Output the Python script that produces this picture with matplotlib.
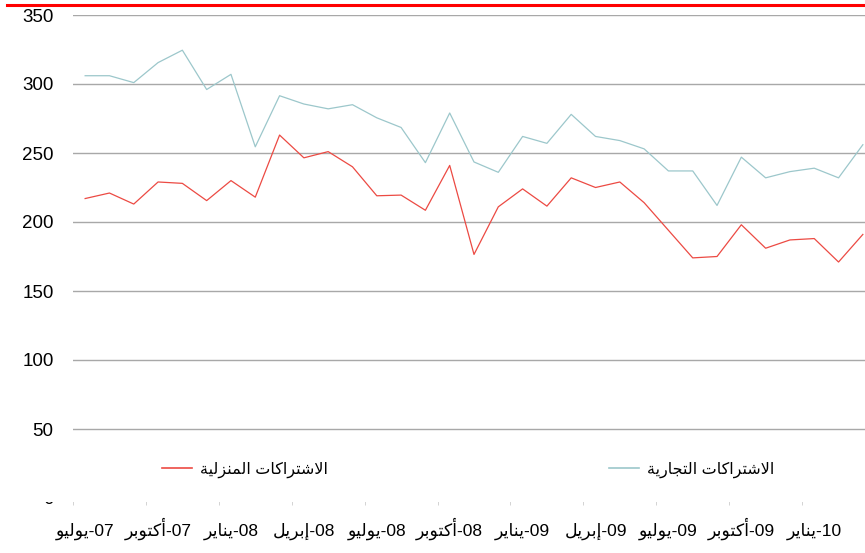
import numpy as np
import matplotlib
matplotlib.use("Agg")
import matplotlib.pyplot as plt
from matplotlib.lines import Line2D
from matplotlib.patches import Rectangle

plt.rcParams['font.family'] = ['Liberation Sans', 'DejaVu Sans']

# quarterly labels (month word, year) from Jul 07, one every 3 months
months = ['يوليو', 'أكتوبر', 'يناير', 'إبريل', 'يوليو', 'أكتوبر',
          'يناير', 'إبريل', 'يوليو', 'أكتوبر', 'يناير']
years = ['07', '07', '08', '08', '08', '08', '09', '09', '09', '09', '10']

# monthly values, Jul 07 .. Mar 10
residential = [217, 221, 213, 229, 228, 215.5, 230, 218, 263, 246.5, 251,
               240, 219, 219.5, 208.5, 241, 176.5, 211, 224, 211.5, 232,
               225, 229, 214, 194, 174, 175, 198, 181, 187, 188, 171, 191]
commercial = [306, 306, 301, 315.5, 324.5, 296, 307, 254.5, 291.5, 285.5, 282,
              285, 275.5, 268.5, 243, 279, 243.5, 236, 262, 257, 278,
              262, 259, 253, 237, 237, 212, 247, 232, 236.5, 239, 232, 256]

name_res = 'الاشتراكات المنزلية'
name_com = 'الاشتراكات التجارية'

# matplotlib has no arabic shaping / bidi, so pick the joined glyph forms
# (presentation forms B) by hand and lay them out right to left
FORMS = {
    'ا': (0xFE8D, 0xFE8E, None, None), 'أ': (0xFE83, 0xFE84, None, None),
    'إ': (0xFE87, 0xFE88, None, None), 'ب': (0xFE8F, 0xFE90, 0xFE91, 0xFE92),
    'ة': (0xFE93, 0xFE94, None, None), 'ت': (0xFE95, 0xFE96, 0xFE97, 0xFE98),
    'ج': (0xFE9D, 0xFE9E, 0xFE9F, 0xFEA0), 'ر': (0xFEAD, 0xFEAE, None, None),
    'ز': (0xFEAF, 0xFEB0, None, None), 'ش': (0xFEB5, 0xFEB6, 0xFEB7, 0xFEB8),
    'ك': (0xFED9, 0xFEDA, 0xFEDB, 0xFEDC), 'ل': (0xFEDD, 0xFEDE, 0xFEDF, 0xFEE0),
    'م': (0xFEE1, 0xFEE2, 0xFEE3, 0xFEE4), 'ن': (0xFEE5, 0xFEE6, 0xFEE7, 0xFEE8),
    'و': (0xFEED, 0xFEEE, None, None), 'ي': (0xFEF1, 0xFEF2, 0xFEF3, 0xFEF4),
    'لا': (0xFEFB, 0xFEFC, None, None), 'لأ': (0xFEF7, 0xFEF8, None, None),
    'لإ': (0xFEF9, 0xFEFA, None, None),
}


def shape(txt):
    toks = []
    i = 0
    while i < len(txt):
        if txt[i:i + 2] in FORMS:
            toks.append(txt[i:i + 2])
            i += 2
        else:
            toks.append(txt[i])
            i += 1
    out = []
    for j, t in enumerate(toks):
        if t not in FORMS:
            out.append(t)
            continue
        iso, fin, ini, med = FORMS[t]
        prev = j > 0 and toks[j - 1] in FORMS and FORMS[toks[j - 1]][2] is not None
        nxt = ini is not None and j + 1 < len(toks) and toks[j + 1] in FORMS
        if prev and nxt:
            c = med
        elif prev:
            c = fin
        elif nxt:
            c = ini
        else:
            c = iso
        out.append(chr(c))
    return ''.join(out[::-1])


x = np.arange(len(residential))
xlabels = [shape(m) + '-' + y for m, y in zip(months, years)]

W, H = 865, 553
fig = plt.figure(figsize=(W / 100, H / 100), dpi=100)
ax = fig.add_axes([73 / W, 1 - 498 / H, 802 / W, 483 / H])

ax.plot(x, residential, color='#ec4a43', lw=0.9, label=name_res)
ax.plot(x, commercial, color='#9cc7cb', lw=0.9, label=name_com)

ax.set_xlim(-0.5, len(x) - 0.5)
ax.set_ylim(0, 350)
ax.set_yticks(np.arange(0, 351, 50))
ax.grid(axis='y', color='#a8a8a8', lw=1)
ax.set_axisbelow(True)
for s in ax.spines.values():
    s.set_visible(False)

ax.set_xticks(x[::3])
ax.set_xticklabels(xlabels, va='baseline')
ax.set_xticks(np.arange(-0.5, len(x), 3), minor=True)
ax.tick_params(axis='x', which='major', length=0, pad=27, labelsize=12.5)
ax.tick_params(axis='x', which='minor', length=5, color='#cccccc')
ax.tick_params(axis='y', length=0, pad=14, labelsize=13.5)

# red rule across the top
fig.add_artist(Line2D([7 / W, 1], [1 - 5 / H] * 2, color='red', lw=2.2))

# white legend band over the bottom of the plot area
fig.add_artist(Rectangle((0, 1 - 502 / H), 1, 61 / H, transform=fig.transFigure,
                         facecolor='white', edgecolor='none', zorder=5))

h_res = Line2D([], [], color='#ec4a43', lw=1.2)
h_com = Line2D([], [], color='#9cc7cb', lw=1.2)
for h, name, x0 in [(h_res, name_res, 162), (h_com, name_com, 609)]:
    lg = fig.legend(handles=[h], labels=[shape(name)], loc='center left',
                    bbox_to_anchor=(x0 / W, 1 - 470 / H), frameon=False,
                    handlelength=1.9, handletextpad=0.45, borderpad=0,
                    borderaxespad=0, fontsize=11.5)
    lg.set_zorder(6)

fig.savefig('out.png', dpi=100)
